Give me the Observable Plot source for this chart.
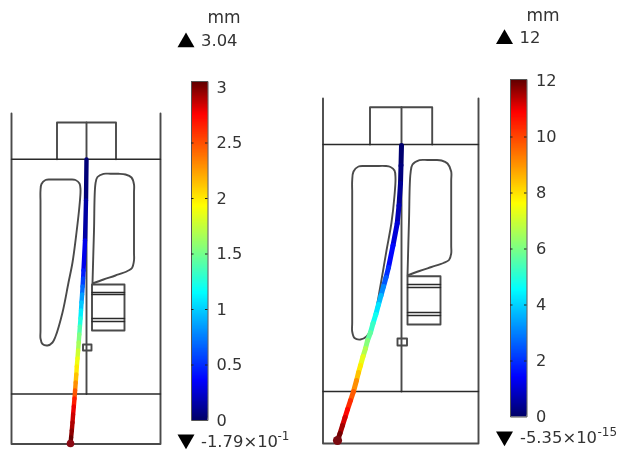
<!DOCTYPE html>
<html>
<head>
<meta charset="utf-8">
<script src="https://cdn.jsdelivr.net/npm/d3@7"></script>
<script src="https://cdn.jsdelivr.net/npm/@observablehq/plot@0.6"></script>
<style>html,body{margin:0;padding:0;background:#fff}svg{display:block}</style>
</head>
<body>
<div id="chart"></div>
<script>
// Colour map (fraction of range -> colour)
const rampStops = [0, 0.115, 0.375, 0.5, 0.63, 0.9, 1];
const rampColors = ["#00006a", "#0000ff", "#00ffff", "#80ff80", "#ffff00", "#ff0000", "#5a0000"];

// Left panel: beam [x, y, fraction]
const leftBeam = [[86,159,0],[85.5,200,.02],[84.5,240,.07],[83,270,.13],[82.6,278,.16],[82.1,286,.2],[81.6,294,.25],[81,302,.3],[80.5,310,.34],[80,318,.38],[79.4,326,.43],[78.8,334,.48],[78.2,342,.52],[77.6,350,.56],[77,358,.6],[76.3,366,.63],[75.8,374,.67],[75.2,382,.72],[74.6,390,.78],[74,398,.84],[73.3,406,.9],[72.6,414,.92],[72,422,.94],[71.3,430,.96],[70.6,437,.98],[70,443,1]];
// Right panel: beam [x, y, fraction]
const rightBeam = [[401,145,0],[400.5,165,.01],[400,183,.02],[398.5,205,.05],[396.7,223,.07],[392.5,245,.1],[388,267,.14],[385.5,277,.18],[383,286,.23],[380.5,295,.28],[378,304,.33],[375.3,314,.37],[372.5,323,.41],[370,332,.45],[367,340,.49],[365,348,.52],[362.5,356,.58],[360,365,.63],[358,372,.67],[356,380,.72],[353,391,.78],[350,400,.83],[347,409,.88],[344.5,417,.91],[342,425,.94],[339.5,433,.97],[337,440,1]];

// Left panel outlines
const leftWalls = [[11,113],[11,443.5],[160,443.5],[160,113]];
const leftBeamTop = [[11,158.7],[160,158.7]];
const leftBaseLine = [[11,393.5],[160,393.5]];
const leftCentre = [[86,122],[86,393.5]];
const leftBolt = [[56.5,158.7],[56.5,122],[115.5,122],[115.5,158.7]];
const leftSlotA = [[40,200],[40,190],[41,183.5],[45,179.5],[50,179],[60,179],[70,179],[75,179.5],[79,183],[80,189],[79,205],[76,232],[72,262],[68,282],[62,312],[55,336],[52,342],[47,345],[42,343.5],[40,338],[40,330],[40,265],[40,200]];
const leftSlotB = [[92,283],[93.5,230],[95,183],[97,176.5],[103,173.3],[110,173.3],[118,173.3],[125,174],[131,177],[133.5,184],[133.5,192],[133.5,225],[133.5,252],[133.5,260],[131.5,267.5],[127,270.5],[115,275],[103,279],[92,283]];
const leftBox = [[91.5,284],[124,284],[124,330],[91.5,330],[91.5,284]];
const leftBoxBars = [[[91.5,292],[124,292]],[[91.5,294],[124,294]],[[91.5,318],[124,318]],[[91.5,321],[124,321]]];
const leftSmall = [[82.5,344],[91,344],[91,350],[82.5,350],[82.5,344]];

// Right panel outlines
const rightWalls = [[322.5,98],[322.5,443],[478,443],[478,98]];
const rightBeamTop = [[322.5,144],[478,144]];
const rightBaseLine = [[322.5,391],[478,391]];
const rightCentre = [[401,106.7],[401,391]];
const rightBolt = [[369.5,144],[369.5,106.7],[431.7,106.7],[431.7,144]];
const rightSlotA = [[351.7,190],[351.7,180],[353,171],[358,166],[365,165.5],[375,165.5],[385,165.5],[390,166.5],[394,170],[395,178],[394,195],[391,222],[386,250],[380,285],[375,312],[370,330],[366,336],[360,339],[354,337.5],[351.7,331],[351.7,322],[351.7,260],[351.7,190]];
const rightSlotB = [[407,275],[408.5,220],[410,173],[412,164],[419,159.7],[427,159.5],[435,159.5],[441,160],[447,163],[450.7,171],[450.7,180],[450.7,215],[450.7,245],[450.7,253],[448.5,259.5],[443,262.5],[431,266.5],[419,270.5],[407,275]];
const rightBox = [[407,275.7],[440,275.7],[440,324],[407,324],[407,275.7]];
const rightBoxBars = [[[407,284],[440,284]],[[407,287],[440,287]],[[407,312],[440,312]],[[407,315],[440,315]]];
const rightSmall = [[397,338],[406.5,338],[406.5,345],[397,345],[397,338]];

// Colour bars
const leftTicks = [0, 0.5, 1, 1.5, 2, 2.5, 3];
const leftTickLabels = ["0", "0.5", "1", "1.5", "2", "2.5", "3"];
const rightTicks = [0, 2, 4, 6, 8, 10, 12];
const rightTickLabels = ["0", "2", "4", "6", "8", "10", "12"];
const leftBar = {x1: 191, x2: 207.5, top: 81, bottom: 420, label: 216, unit: 111};
const rightBar = {x1: 510, x2: 526.5, top: 79, bottom: 416.5, label: 535.5, unit: 28};

// Annotations [text, x, y]
const units = [["mm", 207, 17], ["mm", 526, 15]];
const annotations = [
  ["3.04", 200.5, 40], ["-1.79×10", 200.5, 441.3],
  ["12", 519, 37], ["-5.35×10", 519.5, 437.5]
];
const exponents = [["-1", 277, 436], ["-15", 597, 432]];
const upMarkers = [[185.5, 41.8], [504, 38.5]];
const downMarkers = [[185.5, 439], [504, 436]];

const triangleDown = {
  draw(ctx, size) {
    const y = Math.sqrt(size / (3 * Math.sqrt(3)));
    ctx.moveTo(0, 2 * y);
    ctx.lineTo(-Math.sqrt(3) * y, -y);
    ctx.lineTo(Math.sqrt(3) * y, -y);
    ctx.closePath();
  }
};

const heavy = [leftWalls, leftBolt, leftCentre, leftBox, leftSmall,
               rightWalls, rightBolt, rightCentre, rightBox, rightSmall];
const slots = [leftSlotA, leftSlotB, rightSlotA, rightSlotB];
const thin = [leftBeamTop, leftBaseLine, rightBeamTop, rightBaseLine, ...leftBoxBars, ...rightBoxBars];
const rows = (lists) => lists.flatMap((pts, i) => pts.map(([x, y]) => ({x, y, i})));
const segments = (b) => b.slice(0, -1).map((p, i) => ({x1: p[0], y1: p[1], x2: b[i + 1][0], y2: b[i + 1][1], t: (p[2] + b[i + 1][2]) / 2}));
const barRows = (b) => d3.range(0, 1, 0.004).map((t) => ({
  x1: b.x1, x2: b.x2,
  y1: b.bottom - t * (b.bottom - b.top),
  y2: b.bottom - Math.min(1, t + 0.012) * (b.bottom - b.top),
  t
}));
const frame = (b) => [[b.x1,b.top],[b.x2,b.top],[b.x2,b.bottom],[b.x1,b.bottom],[b.x1,b.top]];
const tickMarks = (b, ticks) => ticks.slice(1, -1).flatMap((v) => [
  {x1: b.x1, x2: b.x1 + 2.5, y: b.bottom - v * b.unit},
  {x1: b.x2 - 2.5, x2: b.x2, y: b.bottom - v * b.unit}
]);
const tickText = (b, ticks, labels) => ticks.map((v, i) => ({x: b.label, y: b.bottom - v * b.unit, s: labels[i]}));
const font = "DejaVu Sans";

const plot = Plot.plot({
  width: 621, height: 450,
  marginLeft: 0, marginRight: 0, marginTop: 0, marginBottom: 0,
  x: {domain: [0, 621], range: [0, 621], axis: null},
  y: {domain: [0, 450], range: [0, 450], axis: null},
  color: {type: "linear", domain: rampStops, range: rampColors, interpolate: "rgb"},
  style: {background: "#fff", filter: "blur(0.6px)"},
  marks: [
    Plot.line(rows(heavy), {x: "x", y: "y", z: "i", stroke: "#4a4a4a", strokeWidth: 1.9}),
    Plot.line(rows(slots), {x: "x", y: "y", z: "i", stroke: "#4a4a4a", strokeWidth: 1.9, curve: "catmull-rom"}),
    Plot.line(rows(thin), {x: "x", y: "y", z: "i", stroke: "#2a2a2a", strokeWidth: 1.4}),
    Plot.link(segments(leftBeam), {x1: "x1", y1: "y1", x2: "x2", y2: "y2", stroke: "t", strokeWidth: 4.4, strokeLinecap: "round"}),
    Plot.link(segments(rightBeam), {x1: "x1", y1: "y1", x2: "x2", y2: "y2", stroke: "t", strokeWidth: 5, strokeLinecap: "round"}),
    Plot.dot([leftBeam[leftBeam.length - 1]], {x: "0", y: "1", r: 3.8, fill: "#8a0a14"}),
    Plot.dot([rightBeam[rightBeam.length - 1]], {x: "0", y: "1", r: 4.6, fill: "#7a0a10"}),
    Plot.rect(barRows(leftBar), {x1: "x1", x2: "x2", y1: "y1", y2: "y2", fill: "t"}),
    Plot.rect(barRows(rightBar), {x1: "x1", x2: "x2", y1: "y1", y2: "y2", fill: "t"}),
    Plot.line(frame(leftBar), {x: "0", y: "1", stroke: "#555", strokeWidth: 1}),
    Plot.line(frame(rightBar), {x: "0", y: "1", stroke: "#555", strokeWidth: 1}),
    Plot.ruleY(tickMarks(leftBar, leftTicks), {x1: "x1", x2: "x2", y: "y", stroke: "#222", strokeWidth: 1}),
    Plot.ruleY(tickMarks(rightBar, rightTicks), {x1: "x1", x2: "x2", y: "y", stroke: "#222", strokeWidth: 1}),
    Plot.text([...tickText(leftBar, leftTicks, leftTickLabels), ...tickText(rightBar, rightTicks, rightTickLabels)],
      {x: "x", y: "y", text: "s", textAnchor: "start", fontFamily: font, fontSize: 16.2, fill: "#333"}),
    Plot.text(units, {x: "1", y: "2", text: "0", textAnchor: "start", fontFamily: font, fontSize: 17, fill: "#333"}),
    Plot.text(annotations, {x: "1", y: "2", text: "0", textAnchor: "start", fontFamily: font, fontSize: 16.4, fill: "#333"}),
    Plot.text(exponents, {x: "1", y: "2", text: "0", textAnchor: "start", fontFamily: font, fontSize: 12, fill: "#333"}),
    Plot.dot(upMarkers, {x: "0", y: "1", r: 6.3, symbol: "triangle", fill: "#000"}),
    Plot.dot(downMarkers, {x: "0", y: "1", r: 6.3, symbol: triangleDown, fill: "#000"})
  ]
});
document.getElementById("chart").appendChild(plot);
</script>
</body>
</html>
